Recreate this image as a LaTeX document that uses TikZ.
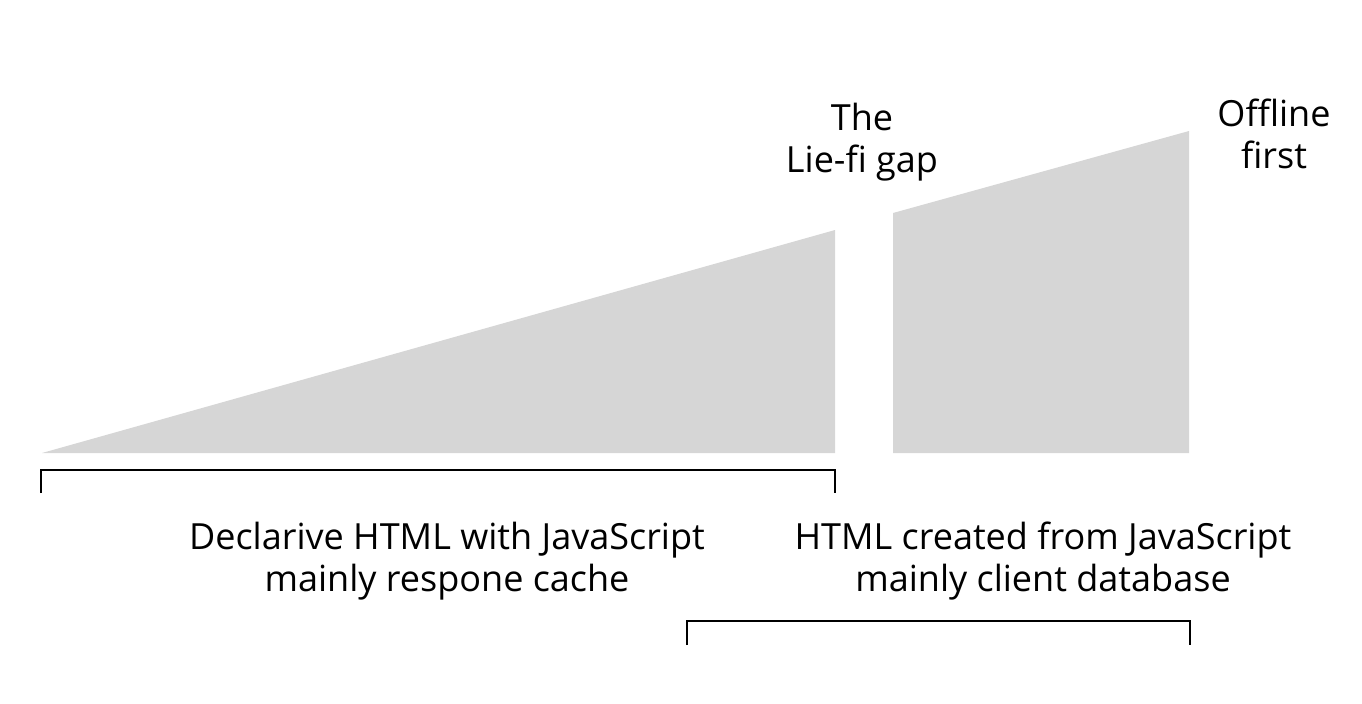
\documentclass[tikz,border=0pt]{standalone}
\usepackage{fontspec}
\setmainfont{Open Sans}
\definecolor{wedgegray}{HTML}{D6D6D6}
\tikzset{
  wedge/.style={fill=wedgegray, draw=none},
  bracket/.style={draw=black, line width=0.8pt},
  label/.style={align=center, font=\fontsize{20.5}{23.5}\selectfont, inner sep=0pt}
}
\begin{document}
\begin{tikzpicture}[x=0.02cm, y=-0.02cm]

     \useasboundingbox (0,0) rectangle (1362,703);

     % shaded wedges
     \fill [wedge] (42,453) -- (835,453) -- (835,230) -- cycle;
     \fill [wedge] (893,453) -- (893,213) -- (1189,131) -- (1189,453) -- cycle;

     % brackets
     \draw [bracket] (41,493) -- (41,470) -- (835,470) -- (835,493);
     \draw [bracket] (687,645) -- (687,621) -- (1190,621) -- (1190,645);

     \node (gap) at (862,142) [label] {The\\Lie-fi gap};
     \node (first) at (1274,134) [label] {Offline\\first};
     \node (decl) at (447,561) [label] {Declarive HTML with JavaScript\\mainly respone cache};
     \node (js) at (1043,561) [label] {HTML created from JavaScript\\mainly client database};

\end{tikzpicture}
\end{document}
